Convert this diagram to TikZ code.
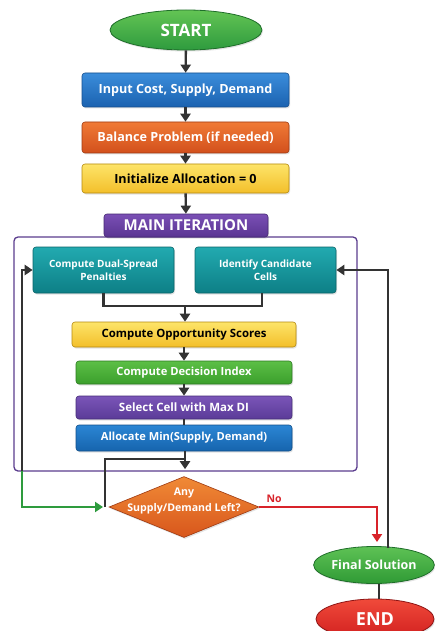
\documentclass[tikz,border=0pt]{standalone}
\usepackage{fontspec}
\setmainfont{Open Sans}
\usetikzlibrary{arrows.meta,shapes.geometric,shadows}
\definecolor{dark}{HTML}{333333}
\definecolor{lnred}{HTML}{D8232A}
\definecolor{lngreen}{HTML}{2E9B3E}
\definecolor{frame}{HTML}{5B3D8E}
\definecolor{gT}{HTML}{63C454}\definecolor{gB}{HTML}{2E9B3E}\definecolor{gD}{HTML}{1F6E2A}
\definecolor{bT}{HTML}{3B8DDB}\definecolor{bB}{HTML}{1B62B0}\definecolor{bD}{HTML}{164F8E}
\definecolor{oT}{HTML}{F07A36}\definecolor{oB}{HTML}{D2501C}\definecolor{oD}{HTML}{9E3A12}
\definecolor{yT}{HTML}{FDE469}\definecolor{yB}{HTML}{F3BF2A}\definecolor{yD}{HTML}{B58A10}
\definecolor{pT}{HTML}{7A4FB5}\definecolor{pB}{HTML}{5A3592}\definecolor{pD}{HTML}{452872}
\definecolor{tT}{HTML}{22AAB0}\definecolor{tB}{HTML}{0D7F86}\definecolor{tD}{HTML}{0A6469}
\definecolor{g2T}{HTML}{5CBF46}\definecolor{g2B}{HTML}{3B9F2C}\definecolor{g2D}{HTML}{2C7A20}
\definecolor{p2T}{HTML}{7A55B8}\definecolor{p2B}{HTML}{5B3B98}\definecolor{p2D}{HTML}{452C78}
\definecolor{b2T}{HTML}{2B86D4}\definecolor{b2B}{HTML}{1664AD}\definecolor{b2D}{HTML}{114F8A}
\definecolor{dT}{HTML}{F08A36}\definecolor{dB}{HTML}{D8561C}\definecolor{dD}{HTML}{9E3A12}
\definecolor{fT}{HTML}{5EC255}\definecolor{fB}{HTML}{2F9A35}\definecolor{fD}{HTML}{1F6E2A}
\definecolor{rT}{HTML}{F04A3A}\definecolor{rB}{HTML}{D11F1F}\definecolor{rD}{HTML}{8E1414}
\begin{document}
\begin{tikzpicture}[x=1pt,y=-1pt,font=\bfseries,
  shd/.style={drop shadow={opacity=0.22,shadow xshift=1pt,shadow yshift=-1.5pt}},
  box/.style n args={3}{rectangle,rounded corners=3pt,inner sep=0pt,align=center,
     top color=#1,bottom color=#2,draw=#3,line width=0.6pt,text=white,shd},
  oval/.style n args={3}{ellipse,inner sep=0pt,align=center,
     top color=#1,bottom color=#2,draw=#3,line width=0.8pt,text=white,shd},
  arr/.style={draw=dark,line width=2.4pt,-{Triangle[width=10pt,length=8pt]}},
  ln/.style={draw=dark,line width=2.4pt},
  fs/.style={font=\fontsize{#1}{#1}\selectfont\bfseries},
  fsb/.style 2 args={font=\fontsize{#1}{#2}\selectfont\bfseries}]
\clip (0,0) rectangle (435,631);
\fill[white] (0,0) rectangle (435,631);

% container
\node (frm) [draw=frame,line width=1.3pt,rounded corners=4pt,fill=white,
  minimum width=343pt,minimum height=234pt,inner sep=0pt] at (185.5,354) {};

% nodes
\node (start) [oval={gT}{gB}{gD},minimum width=152pt,minimum height=40pt,fs=17pt] at (186,30) {START};
\node (input) [box={bT}{bB}{bD},minimum width=207pt,minimum height=34pt,fs=12.6pt] at (185.5,90) {Input Cost, Supply, Demand};
\node (bal) [box={oT}{oB}{oD},minimum width=207pt,minimum height=31pt,fs=12.6pt] at (185.5,137.5) {Balance Problem (if needed)};
\node (init) [box={yT}{yB}{yD},text=black,minimum width=207pt,minimum height=29pt,fs=12.6pt] at (185.5,178.5) {Initialize Allocation = 0};
\node (tab) [box={pT}{pB}{pD},minimum width=164pt,minimum height=23pt,fs=15pt] at (186,225.5) {MAIN ITERATION};

\node (dual) [box={tT}{tB}{tD},minimum width=141pt,minimum height=46pt,fsb={10pt}{13.5pt}] at (103.5,270) {Compute Dual-Spread\\Penalties};
\node (ident) [box={tT}{tB}{tD},minimum width=141pt,minimum height=46pt,fsb={10pt}{13.5pt}] at (265.5,270) {Identify Candidate\\Cells};
\node (opp) [box={yT}{yB}{yD},text=black,minimum width=224pt,minimum height=25pt,fs=11.4pt] at (184,334.5) {Compute Opportunity Scores};
\node (dec) [box={g2T}{g2B}{g2D},minimum width=216pt,minimum height=23pt,fs=11.2pt] at (184,372.5) {Compute Decision Index};
\node (sel) [box={p2T}{p2B}{p2D},minimum width=216pt,minimum height=23pt,fs=11.5pt] at (184,407.5) {Select Cell with Max DI};
\node (alloc) [box={b2T}{b2B}{b2D},minimum width=216pt,minimum height=26pt,fs=11.1pt] at (184,438) {Allocate Min(Supply, Demand)};

\node (dia) [diamond,inner sep=0pt,minimum width=150pt,minimum height=61pt,
  top color=dT,bottom color=dB,draw=dD,line width=0.6pt,shd,
  label={[fsb={10.6pt}{15.5pt},text=white,align=center,yshift=6pt]center:Any\\Supply/Demand Left?}] at (184,507) {};

\node (final) [oval={fT}{fB}{fD},minimum width=118pt,minimum height=37pt,fs=12.5pt] at (374,565) {Final Solution};
\node (endn) [oval={rT}{rB}{rD},minimum width=118pt,minimum height=40pt,fs=18pt] at (375,619) {END};

% connectors
\draw[arr] (start) -- (input);
\draw[arr] (input) -- (bal);
\draw[arr] (bal) -- (init);
\draw[arr] (init) -- (tab);

\coordinate (join) at (185,306);
\draw[ln] (dual.south) |- (join);
\draw[ln] ([xshift=-3.5pt]ident.south) |- (join);
\draw[arr] (join) -- (opp.north -| join);
\draw[arr] (opp) -- (dec);
\draw[arr] (dec) -- (sel);
\draw[ln] (sel) -- (alloc);
\draw[arr,shorten >=7pt] (alloc.south -| join) -- (dia.north -| join);

\coordinate (mergeL) at (185,459);
\coordinate (yesL) at (105,507);
\draw[ln] (yesL) |- (mergeL);

\coordinate (loopB) at (22,471);
\draw[arr] (loopB) |- (dual.west);
\draw[draw=lngreen,line width=2.4pt,-{Triangle[width=10pt,length=8pt]}] (loopB) |- ([xshift=-2pt]yesL);

\coordinate (redT) at (377,542);
\draw[draw=lnred,line width=2.4pt,-{Triangle[width=10pt,length=8pt]}] (dia.east) -| (redT);
\node (no) [text=lnred,fs=10.5pt,anchor=west] at (263,499) {No};

\draw[arr] ([xshift=14pt,yshift=-2pt]final.north) |- (ident.east);
\draw[ln] ([xshift=5pt]final.south) -- ([xshift=4pt]endn.north);
\end{tikzpicture}
\end{document}
